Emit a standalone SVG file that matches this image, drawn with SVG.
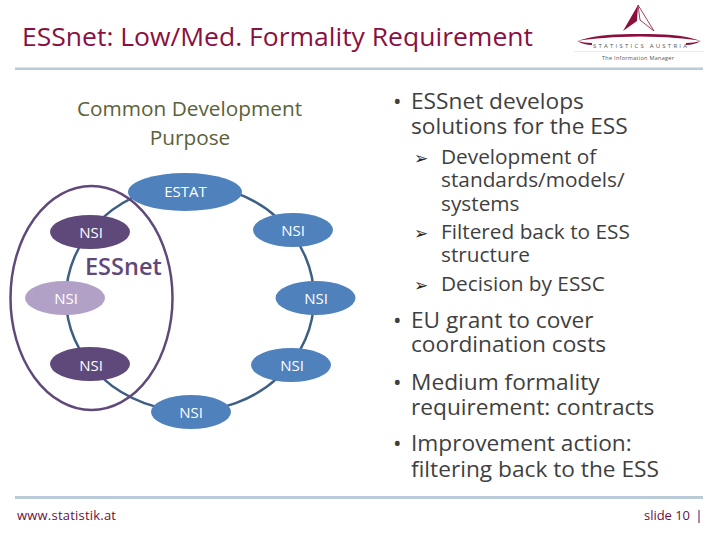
<svg xmlns="http://www.w3.org/2000/svg" width="720" height="540" viewBox="0 0 720 540">
<style>
text{font-family:"Open Sans","Noto Sans","DejaVu Sans",sans-serif}
.n{fill:#fff;font-size:15px;text-anchor:middle}
.b{fill:#4f81bd}.d{fill:#5f497a}.l{fill:#b2a1c7}
.t{fill:#3f3f3f;font-size:22.7px}
.s{fill:#3f3f3f;font-size:20.8px}
.a{fill:#262626;font-size:17px;font-weight:700}
.rule{fill:#b9cad9}
.r{fill:#8a0f3c}
</style>
<rect width="720" height="540" fill="#fff"/>
<g id="header">
<text x="22" y="46" font-size="25" fill="#8a1040" textLength="511" lengthAdjust="spacingAndGlyphs">ESSnet: Low/Med. Formality Requirement</text>
<rect class="rule" x="15" y="67.500" width="688" height="2.500"/>
</g>
<g id="logo">
<path class="r" d="M638 5 L623 31 L637 21 Z"/>
<path d="M638 5 L654 31 L640 20 Z" fill="none" stroke="#8a0f3c" stroke-width="0.800"/>
<path class="r" d="M577 41 Q600 33 640 34 Q680 33 701 41 Q680 37 640 36.500 Q600 37 577 41 Z"/>
<path class="r" d="M577 41 Q584 45 592 45 L592 43 Q584 43 577 41 Z"/>
<path class="r" d="M701 41 Q694 45 686 45 L686 43 Q694 43 701 41 Z"/>
<text x="640" y="48" font-size="6" fill="#555" text-anchor="middle" textLength="94" lengthAdjust="spacing">STATISTICS AUSTRIA</text>
<rect x="574" y="51" width="130" height="0.600" fill="#ddd"/>
<text x="638" y="60" font-size="5.500" fill="#555" text-anchor="middle" textLength="72" lengthAdjust="spacing">The Information Manager</text>
</g>
<g id="purpose">
<text x="189.500" y="116" font-size="20.800" fill="#5a6238" text-anchor="middle">Common Development</text>
<text x="190" y="145" font-size="20.800" fill="#5a6238" text-anchor="middle">Purpose</text>
</g>
<g id="connectors">
<ellipse cx="190" cy="298" rx="124" ry="113" fill="none" stroke="#3d5f84" stroke-width="2.500"/>
</g>
<g id="estat"><ellipse class="b" cx="185" cy="192" rx="57" ry="19"/><text class="n" x="185.500" y="197">ESTAT</text></g>
<g id="nsi-r1"><ellipse class="b" cx="293" cy="230" rx="40" ry="17"/><text class="n" x="293" y="236">NSI</text></g>
<g id="nsi-r2"><ellipse class="b" cx="315.500" cy="298" rx="40" ry="17"/><text class="n" x="316" y="304">NSI</text></g>
<g id="nsi-r3"><ellipse class="b" cx="291" cy="365" rx="40" ry="17"/><text class="n" x="292" y="371">NSI</text></g>
<g id="nsi-b"><ellipse class="b" cx="191" cy="412" rx="40" ry="17"/><text class="n" x="191" y="418">NSI</text></g>
<g id="nsi-l1"><ellipse class="d" cx="90" cy="232" rx="40" ry="17"/><text class="n" x="91" y="238">NSI</text></g>
<g id="nsi-l2"><ellipse class="l" cx="65" cy="298" rx="40" ry="17"/><text class="n" x="66" y="304">NSI</text></g>
<g id="nsi-l3"><ellipse class="d" cx="90" cy="364" rx="40" ry="17"/><text class="n" x="91" y="371">NSI</text></g>
<g id="essnet">
<ellipse cx="91.500" cy="298" rx="81" ry="112" fill="none" stroke="#5f497a" stroke-width="2.500"/>
<text x="85" y="275" font-size="23.500" font-weight="600" fill="#5f497a">ESSnet</text>
</g>
<g id="bullets">
<text class="t" x="393" y="109">•</text>
<text class="t" x="411" y="109">ESSnet develops</text>
<text class="t" x="411" y="134">solutions for the ESS</text>
<text class="a" x="414" y="164">➢</text>
<text class="s" x="441" y="164">Development of</text>
<text class="s" x="441" y="187">standards/models/</text>
<text class="s" x="441" y="211">systems</text>
<text class="a" x="414" y="239">➢</text>
<text class="s" x="441" y="239">Filtered back to ESS</text>
<text class="s" x="441" y="262">structure</text>
<text class="a" x="414" y="291">➢</text>
<text class="s" x="441" y="291">Decision by ESSC</text>
<text class="t" x="393" y="328">•</text>
<text class="t" x="411" y="328">EU grant to cover</text>
<text class="t" x="411" y="352">coordination costs</text>
<text class="t" x="393" y="390">•</text>
<text class="t" x="411" y="390">Medium formality</text>
<text class="t" x="411" y="415">requirement: contracts</text>
<text class="t" x="393" y="451">•</text>
<text class="t" x="411" y="451">Improvement action:</text>
<text class="t" x="411" y="477">filtering back to the ESS</text>
</g>
<g id="footer">
<rect class="rule" x="15" y="496" width="688" height="3"/>
<text x="17" y="520" font-size="13" fill="#6b1038" textLength="99">www.statistik.at</text>
<text x="644" y="520" font-size="13" fill="#6b1038" textLength="46">slide 10</text>
<rect x="698.500" y="510" width="1" height="13" fill="#6b1038"/>
</g>
</svg>
